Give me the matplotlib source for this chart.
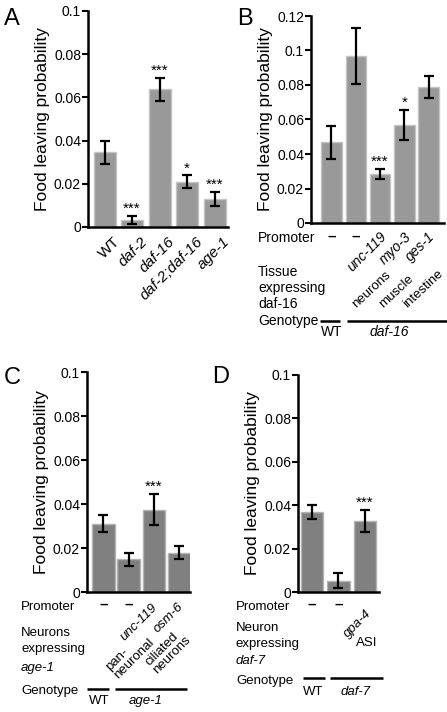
import matplotlib
matplotlib.use("Agg")
import matplotlib.pyplot as plt

plt.rcParams['font.family'] = ['Liberation Sans', 'DejaVu Sans']

# panel A: insulin pathway mutants
a_labels = ["WT", "daf-2", "daf-16", "daf-2;daf-16", "age-1"]
a_means = [0.0345, 0.0031, 0.0637, 0.0209, 0.0129]
a_errs = [0.0055, 0.0019, 0.0055, 0.0030, 0.0032]
a_stars = ["", "***", "***", "*", "***"]

# panel B: tissue-specific daf-16 rescue
b_means = [0.0468, 0.0968, 0.0283, 0.0567, 0.0790]
b_errs = [0.0096, 0.0163, 0.0030, 0.0088, 0.0065]
b_stars = ["", "", "***", "*", ""]
b_promoters = ["-", "-", "unc-119", "myo-3", "ges-1"]
b_tissues = ["", "", "neurons", "muscle", "intestine"]

# panel C: neuronal age-1 rescue
c_means = [0.0311, 0.0149, 0.0375, 0.0179]
c_errs = [0.0039, 0.0030, 0.0070, 0.0028]
c_stars = ["", "", "***", ""]
c_promoters = ["-", "-", "unc-119", "osm-6"]
c_neurons = ["", "", "pan-\nneuronal", "ciliated\nneurons"]

# panel D: ASI daf-7 rescue
d_means = [0.0368, 0.0052, 0.0328]
d_errs = [0.0033, 0.0034, 0.0050]
d_stars = ["", "", "***"]
d_promoters = ["-", "-", "gpa-4"]
d_neurons = ["", "", "ASI"]

W, H = 447, 712
fig = plt.figure(figsize=(W / 100, H / 100), dpi=100)


def px_axes(left, right, top, bottom):
    return fig.add_axes([left / W, 1 - bottom / H, (right - left) / W, (bottom - top) / H])


def ftext(x, y, s, **kw):
    kw.setdefault("fontsize", 9.5)
    kw.setdefault("va", "baseline")
    fig.text(x / W, 1 - y / H, s, **kw)


def draw_bars(ax, means, errs, stars, width, color, edge, ymax, ticks, xlim):
    xs = list(range(len(means)))
    ax.bar(xs, means, width=width, color=color, edgecolor=edge, linewidth=1, zorder=2)
    ax.errorbar(xs, means, yerr=errs, fmt="none", ecolor="black", elinewidth=1.6,
                capsize=3.5, capthick=1.6, zorder=3)
    for x, m, e, s in zip(xs, means, errs, stars):
        if s:
            ax.annotate(s, (x, m + e), xytext=(0, 0), textcoords="offset points",
                        ha="center", va="bottom", fontsize=11)
    ax.set_xlim(*xlim)
    ax.set_ylim(0, ymax)
    ax.set_yticks(ticks)
    ax.set_yticklabels(["0"] + [f"{t:g}" for t in ticks[1:]], fontsize=10)
    for side in ["top", "right"]:
        ax.spines[side].set_visible(False)
    ax.spines["left"].set_linewidth(1.8)
    ax.spines["bottom"].set_linewidth(1.8)
    ax.tick_params(axis="y", length=4, width=1.5, pad=1)
    ax.set_xticks([])
    ax.set_ylabel("Food leaving probability", fontsize=12.5, labelpad=3)
    return xs


def under(ax, x, y, s, **kw):
    kw.setdefault("fontsize", 9.5)
    ax.text(x, y, s, transform=ax.get_xaxis_transform(), clip_on=False, **kw)


def genotype_line(ax, x0, x1, y):
    ax.plot([x0, x1], [y, y], color="black", lw=1.8, transform=ax.get_xaxis_transform(),
            clip_on=False, solid_capstyle="butt")


def dash(ax, x, y):
    under(ax, x, y, "–", ha="center", va="center", fontsize=11, fontweight="bold")


ticks01 = [0, 0.02, 0.04, 0.06, 0.08, 0.1]

# ---- A ----
axA = px_axes(88, 228, 11, 227)
xs = draw_bars(axA, a_means, a_errs, a_stars, 0.8, "#999999", "#c4c4c4", 0.1,
               ticks01, (-0.6, 4.49))
for x, lab in zip(xs, a_labels):
    under(axA, x + 0.3, -0.035, lab, rotation=45, rotation_mode="anchor", ha="right",
          va="top", fontsize=11, style="normal" if lab == "WT" else "italic")
ftext(4, 19, "A", fontsize=17, va="center", ha="left")

# ---- B ----
axB = px_axes(311, 444, 16, 223)
xs = draw_bars(axB, b_means, b_errs, b_stars, 0.84, "#999999", "#c4c4c4", 0.12,
               [0, 0.02, 0.04, 0.06, 0.08, 0.1, 0.12], (-0.84, 4.63))
b_tissue_dx = [0, 0, -1.0, -0.88, -0.9]
for x, p, t, tdx in zip(xs, b_promoters, b_tissues, b_tissue_dx):
    if p == "-":
        dash(axB, x, -0.068)
    else:
        under(axB, x + 0.3, -0.07, p, rotation=45, rotation_mode="anchor", ha="right",
              va="baseline", fontsize=10, style="italic")
    if t:
        under(axB, x + tdx, -0.41, t, rotation=43, rotation_mode="anchor", ha="left",
              va="baseline", fontsize=9.5)
ftext(258, 242, "Promoter", fontsize=10)
ftext(258, 276, "Tissue", fontsize=10)
ftext(258, 292, "expressing", fontsize=10)
ftext(258, 308, "daf-16", fontsize=10)
ftext(258, 325, "Genotype", fontsize=10)
genotype_line(axB, -0.47, 0.35, -0.473)
genotype_line(axB, 0.64, 4.8, -0.473)
under(axB, 0.02, -0.495, "WT", ha="center", va="top", fontsize=10)
under(axB, 2.4, -0.495, "daf-16", ha="center", va="top", fontsize=10, style="italic")
ftext(237, 19, "B", fontsize=17, va="center", ha="left")

# ---- C ----
axC = px_axes(87, 190, 372, 592)
xs = draw_bars(axC, c_means, c_errs, c_stars, 0.9, "#808080", "#b4b4b4", 0.1,
               ticks01, (-0.65, 3.42))
c_neuron_dx = [0, 0, -1.4, -0.85]
c_neuron_y = [0, 0, -0.395, -0.373]
for x, p, n, ndx, ny in zip(xs, c_promoters, c_neurons, c_neuron_dx, c_neuron_y):
    if p == "-":
        dash(axC, x, -0.059)
    else:
        under(axC, x + 0.15, -0.07, p, rotation=45, rotation_mode="anchor", ha="right",
              va="baseline", style="italic")
    if n:
        under(axC, x + ndx, ny, n, rotation=45, rotation_mode="anchor", ha="left",
              va="baseline", multialignment="left", linespacing=0.95)
ftext(21, 610, "Promoter")
ftext(21, 636, "Neurons")
ftext(21, 652, "expressing")
ftext(21, 671, "age-1", style="italic")
ftext(21, 694, "Genotype")
genotype_line(axC, -0.65, 0.22, -0.441)
genotype_line(axC, 0.45, 3.3, -0.441)
under(axC, -0.18, -0.47, "WT", ha="center", va="top")
under(axC, 1.68, -0.47, "age-1", ha="center", va="top", style="italic")
ftext(4, 378, "C", fontsize=17, va="center", ha="left")

# ---- D ----
axD = px_axes(298, 379, 375, 592)
xs = draw_bars(axD, d_means, d_errs, d_stars, 0.85, "#808080", "#b4b4b4", 0.1,
               ticks01, (-0.53, 2.53))
for x, p, n in zip(xs, d_promoters, d_neurons):
    if p == "-":
        dash(axD, x, -0.06)
    else:
        under(axD, x + 0.25, -0.1, p, rotation=45, rotation_mode="anchor", ha="right",
              va="baseline", style="italic")
    if n:
        under(axD, x + 0.08, -0.235, n, ha="center", va="center")
ftext(236, 610, "Promoter")
ftext(236, 631, "Neuron")
ftext(236, 647, "expressing")
ftext(236, 664, "daf-7", style="italic")
ftext(236, 684, "Genotype")
genotype_line(axD, -0.34, 0.49, -0.395)
genotype_line(axD, 0.68, 2.68, -0.395)
under(axD, 0.06, -0.432, "WT", ha="center", va="top")
under(axD, 1.64, -0.432, "daf-7", ha="center", va="top", style="italic")
ftext(212, 377, "D", fontsize=17, va="center", ha="left")

fig.savefig("out.png", dpi=100)
